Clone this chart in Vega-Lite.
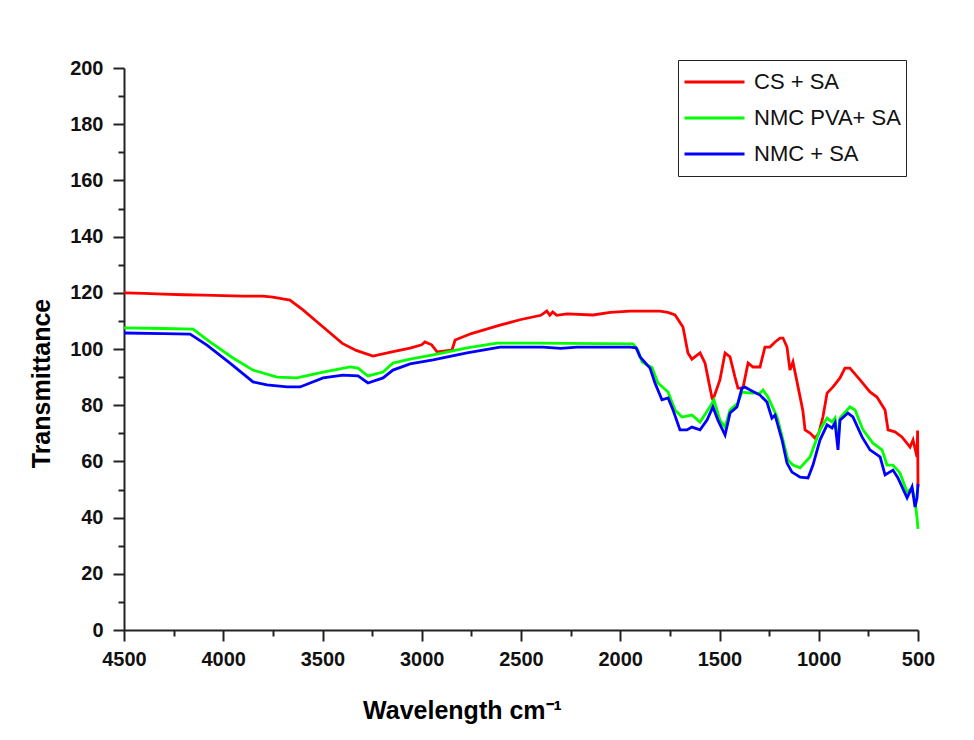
{
  "$schema": "https://vega.github.io/schema/vega-lite/v6.json",
  "width": 794,
  "height": 562,
  "autosize": {"type": "none"},
  "padding": {"left": 124, "top": 68, "right": 56, "bottom": 110},
  "background": "white",
  "config": {
    "view": {"stroke": null},
    "font": "Liberation Sans",
    "axis": {
      "grid": false,
      "domainColor": "#222",
      "domainWidth": 2,
      "tickColor": "#222",
      "tickWidth": 2,
      "labelColor": "#111",
      "labelFont": "Liberation Sans",
      "labelFontWeight": "bold",
      "labelFontSize": 20,
      "titleFont": "Liberation Sans",
      "titleFontWeight": "bold",
      "titleFontSize": 25,
      "titleColor": "#000"
    }
  },
  "datasets": {
    "spectra": [
      {"series": "CS + SA", "wn": 4500, "t": 120},
      {"series": "CS + SA", "wn": 4400, "t": 119.8},
      {"series": "CS + SA", "wn": 4300, "t": 119.5},
      {"series": "CS + SA", "wn": 4200, "t": 119.3},
      {"series": "CS + SA", "wn": 4100, "t": 119.2},
      {"series": "CS + SA", "wn": 4000, "t": 119},
      {"series": "CS + SA", "wn": 3900, "t": 118.8},
      {"series": "CS + SA", "wn": 3800, "t": 118.8},
      {"series": "CS + SA", "wn": 3750, "t": 118.5},
      {"series": "CS + SA", "wn": 3700, "t": 117.8},
      {"series": "CS + SA", "wn": 3664, "t": 117.4},
      {"series": "CS + SA", "wn": 3600, "t": 114},
      {"series": "CS + SA", "wn": 3500, "t": 108},
      {"series": "CS + SA", "wn": 3400, "t": 102},
      {"series": "CS + SA", "wn": 3330, "t": 99.5},
      {"series": "CS + SA", "wn": 3246, "t": 97.5},
      {"series": "CS + SA", "wn": 3150, "t": 99},
      {"series": "CS + SA", "wn": 3059, "t": 100.3},
      {"series": "CS + SA", "wn": 3000, "t": 101.5},
      {"series": "CS + SA", "wn": 2984, "t": 102.5},
      {"series": "CS + SA", "wn": 2950, "t": 101.5},
      {"series": "CS + SA", "wn": 2923, "t": 99},
      {"series": "CS + SA", "wn": 2848, "t": 99.6},
      {"series": "CS + SA", "wn": 2832, "t": 103.2},
      {"series": "CS + SA", "wn": 2750, "t": 105.5},
      {"series": "CS + SA", "wn": 2606, "t": 108.5},
      {"series": "CS + SA", "wn": 2500, "t": 110.5},
      {"series": "CS + SA", "wn": 2400, "t": 112},
      {"series": "CS + SA", "wn": 2370, "t": 113.5},
      {"series": "CS + SA", "wn": 2355, "t": 112},
      {"series": "CS + SA", "wn": 2340, "t": 113.2},
      {"series": "CS + SA", "wn": 2320, "t": 112},
      {"series": "CS + SA", "wn": 2268, "t": 112.5},
      {"series": "CS + SA", "wn": 2137, "t": 112.1},
      {"series": "CS + SA", "wn": 2050, "t": 113},
      {"series": "CS + SA", "wn": 1951, "t": 113.5},
      {"series": "CS + SA", "wn": 1800, "t": 113.5},
      {"series": "CS + SA", "wn": 1760, "t": 113},
      {"series": "CS + SA", "wn": 1724, "t": 112.1},
      {"series": "CS + SA", "wn": 1684, "t": 107.8},
      {"series": "CS + SA", "wn": 1659, "t": 98.6},
      {"series": "CS + SA", "wn": 1639, "t": 96.4},
      {"series": "CS + SA", "wn": 1598, "t": 98.6},
      {"series": "CS + SA", "wn": 1573, "t": 95},
      {"series": "CS + SA", "wn": 1538, "t": 82.6},
      {"series": "CS + SA", "wn": 1533, "t": 81.9},
      {"series": "CS + SA", "wn": 1498, "t": 89},
      {"series": "CS + SA", "wn": 1472, "t": 98.6},
      {"series": "CS + SA", "wn": 1447, "t": 97.2},
      {"series": "CS + SA", "wn": 1422, "t": 90},
      {"series": "CS + SA", "wn": 1407, "t": 86.1},
      {"series": "CS + SA", "wn": 1382, "t": 86.1},
      {"series": "CS + SA", "wn": 1356, "t": 95},
      {"series": "CS + SA", "wn": 1331, "t": 93.6},
      {"series": "CS + SA", "wn": 1296, "t": 93.6},
      {"series": "CS + SA", "wn": 1271, "t": 100.7},
      {"series": "CS + SA", "wn": 1246, "t": 100.7},
      {"series": "CS + SA", "wn": 1220, "t": 102.5},
      {"series": "CS + SA", "wn": 1195, "t": 103.9},
      {"series": "CS + SA", "wn": 1180, "t": 103.9},
      {"series": "CS + SA", "wn": 1160, "t": 100.7},
      {"series": "CS + SA", "wn": 1145, "t": 92.5},
      {"series": "CS + SA", "wn": 1130, "t": 95.4},
      {"series": "CS + SA", "wn": 1100, "t": 85},
      {"series": "CS + SA", "wn": 1080, "t": 78},
      {"series": "CS + SA", "wn": 1069, "t": 71.2},
      {"series": "CS + SA", "wn": 1044, "t": 70.1},
      {"series": "CS + SA", "wn": 1019, "t": 68.3},
      {"series": "CS + SA", "wn": 1000, "t": 70},
      {"series": "CS + SA", "wn": 979, "t": 75.8},
      {"series": "CS + SA", "wn": 958, "t": 84.3},
      {"series": "CS + SA", "wn": 928, "t": 86.5},
      {"series": "CS + SA", "wn": 893, "t": 89.7},
      {"series": "CS + SA", "wn": 868, "t": 93.2},
      {"series": "CS + SA", "wn": 843, "t": 93.2},
      {"series": "CS + SA", "wn": 792, "t": 89},
      {"series": "CS + SA", "wn": 742, "t": 84.7},
      {"series": "CS + SA", "wn": 707, "t": 82.9},
      {"series": "CS + SA", "wn": 666, "t": 78.3},
      {"series": "CS + SA", "wn": 651, "t": 71.2},
      {"series": "CS + SA", "wn": 616, "t": 70.5},
      {"series": "CS + SA", "wn": 581, "t": 68.7},
      {"series": "CS + SA", "wn": 540, "t": 65.1},
      {"series": "CS + SA", "wn": 525, "t": 67.6},
      {"series": "CS + SA", "wn": 505, "t": 61.6},
      {"series": "CS + SA", "wn": 502, "t": 71},
      {"series": "CS + SA", "wn": 500, "t": 51},

      {"series": "NMC PVA+ SA", "wn": 4500, "t": 107.5},
      {"series": "NMC PVA+ SA", "wn": 4300, "t": 107.3},
      {"series": "NMC PVA+ SA", "wn": 4152, "t": 107.1},
      {"series": "NMC PVA+ SA", "wn": 4067, "t": 102.5},
      {"series": "NMC PVA+ SA", "wn": 3951, "t": 96.8},
      {"series": "NMC PVA+ SA", "wn": 3850, "t": 92.5},
      {"series": "NMC PVA+ SA", "wn": 3729, "t": 90},
      {"series": "NMC PVA+ SA", "wn": 3628, "t": 89.7},
      {"series": "NMC PVA+ SA", "wn": 3497, "t": 91.8},
      {"series": "NMC PVA+ SA", "wn": 3361, "t": 93.6},
      {"series": "NMC PVA+ SA", "wn": 3321, "t": 93.2},
      {"series": "NMC PVA+ SA", "wn": 3271, "t": 90.4},
      {"series": "NMC PVA+ SA", "wn": 3195, "t": 91.8},
      {"series": "NMC PVA+ SA", "wn": 3145, "t": 95},
      {"series": "NMC PVA+ SA", "wn": 3059, "t": 96.4},
      {"series": "NMC PVA+ SA", "wn": 2943, "t": 97.9},
      {"series": "NMC PVA+ SA", "wn": 2772, "t": 100.4},
      {"series": "NMC PVA+ SA", "wn": 2621, "t": 102.1},
      {"series": "NMC PVA+ SA", "wn": 2440, "t": 102.1},
      {"series": "NMC PVA+ SA", "wn": 2268, "t": 102},
      {"series": "NMC PVA+ SA", "wn": 1936, "t": 101.8},
      {"series": "NMC PVA+ SA", "wn": 1911, "t": 99.6},
      {"series": "NMC PVA+ SA", "wn": 1890, "t": 95.4},
      {"series": "NMC PVA+ SA", "wn": 1865, "t": 94.3},
      {"series": "NMC PVA+ SA", "wn": 1840, "t": 93.4},
      {"series": "NMC PVA+ SA", "wn": 1810, "t": 87.9},
      {"series": "NMC PVA+ SA", "wn": 1759, "t": 84.7},
      {"series": "NMC PVA+ SA", "wn": 1724, "t": 78.3},
      {"series": "NMC PVA+ SA", "wn": 1689, "t": 75.8},
      {"series": "NMC PVA+ SA", "wn": 1639, "t": 76.5},
      {"series": "NMC PVA+ SA", "wn": 1598, "t": 74},
      {"series": "NMC PVA+ SA", "wn": 1548, "t": 79.4},
      {"series": "NMC PVA+ SA", "wn": 1528, "t": 81.9},
      {"series": "NMC PVA+ SA", "wn": 1498, "t": 74.7},
      {"series": "NMC PVA+ SA", "wn": 1472, "t": 72.2},
      {"series": "NMC PVA+ SA", "wn": 1447, "t": 78.3},
      {"series": "NMC PVA+ SA", "wn": 1407, "t": 80.8},
      {"series": "NMC PVA+ SA", "wn": 1387, "t": 84.7},
      {"series": "NMC PVA+ SA", "wn": 1346, "t": 84.3},
      {"series": "NMC PVA+ SA", "wn": 1296, "t": 84.3},
      {"series": "NMC PVA+ SA", "wn": 1281, "t": 85.4},
      {"series": "NMC PVA+ SA", "wn": 1256, "t": 82.9},
      {"series": "NMC PVA+ SA", "wn": 1210, "t": 75.8},
      {"series": "NMC PVA+ SA", "wn": 1180, "t": 67.6},
      {"series": "NMC PVA+ SA", "wn": 1155, "t": 60.5},
      {"series": "NMC PVA+ SA", "wn": 1130, "t": 58.7},
      {"series": "NMC PVA+ SA", "wn": 1094, "t": 57.7},
      {"series": "NMC PVA+ SA", "wn": 1044, "t": 61.6},
      {"series": "NMC PVA+ SA", "wn": 994, "t": 71.2},
      {"series": "NMC PVA+ SA", "wn": 958, "t": 75.4},
      {"series": "NMC PVA+ SA", "wn": 933, "t": 74},
      {"series": "NMC PVA+ SA", "wn": 918, "t": 75.4},
      {"series": "NMC PVA+ SA", "wn": 903, "t": 66.5},
      {"series": "NMC PVA+ SA", "wn": 893, "t": 75.4},
      {"series": "NMC PVA+ SA", "wn": 843, "t": 79.4},
      {"series": "NMC PVA+ SA", "wn": 817, "t": 78.3},
      {"series": "NMC PVA+ SA", "wn": 777, "t": 71.2},
      {"series": "NMC PVA+ SA", "wn": 727, "t": 66.5},
      {"series": "NMC PVA+ SA", "wn": 681, "t": 64.1},
      {"series": "NMC PVA+ SA", "wn": 656, "t": 58.7},
      {"series": "NMC PVA+ SA", "wn": 626, "t": 58.7},
      {"series": "NMC PVA+ SA", "wn": 591, "t": 55.9},
      {"series": "NMC PVA+ SA", "wn": 555, "t": 49.1},
      {"series": "NMC PVA+ SA", "wn": 530, "t": 50.5},
      {"series": "NMC PVA+ SA", "wn": 515, "t": 46.3},
      {"series": "NMC PVA+ SA", "wn": 505, "t": 40},
      {"series": "NMC PVA+ SA", "wn": 500, "t": 36},

      {"series": "NMC + SA", "wn": 4500, "t": 105.7},
      {"series": "NMC + SA", "wn": 4300, "t": 105.5},
      {"series": "NMC + SA", "wn": 4167, "t": 105.3},
      {"series": "NMC + SA", "wn": 4082, "t": 101.4},
      {"series": "NMC + SA", "wn": 3966, "t": 95},
      {"series": "NMC + SA", "wn": 3850, "t": 88.3},
      {"series": "NMC + SA", "wn": 3780, "t": 87.2},
      {"series": "NMC + SA", "wn": 3679, "t": 86.5},
      {"series": "NMC + SA", "wn": 3613, "t": 86.5},
      {"series": "NMC + SA", "wn": 3497, "t": 89.7},
      {"series": "NMC + SA", "wn": 3397, "t": 90.7},
      {"series": "NMC + SA", "wn": 3321, "t": 90.4},
      {"series": "NMC + SA", "wn": 3271, "t": 87.9},
      {"series": "NMC + SA", "wn": 3195, "t": 89.7},
      {"series": "NMC + SA", "wn": 3145, "t": 92.5},
      {"series": "NMC + SA", "wn": 3059, "t": 94.7},
      {"series": "NMC + SA", "wn": 2943, "t": 96.1},
      {"series": "NMC + SA", "wn": 2772, "t": 98.6},
      {"series": "NMC + SA", "wn": 2606, "t": 100.7},
      {"series": "NMC + SA", "wn": 2389, "t": 100.7},
      {"series": "NMC + SA", "wn": 2300, "t": 100.2},
      {"series": "NMC + SA", "wn": 2218, "t": 100.7},
      {"series": "NMC + SA", "wn": 1951, "t": 100.7},
      {"series": "NMC + SA", "wn": 1920, "t": 100.4},
      {"series": "NMC + SA", "wn": 1900, "t": 97.2},
      {"series": "NMC + SA", "wn": 1850, "t": 93.2},
      {"series": "NMC + SA", "wn": 1825, "t": 87.9},
      {"series": "NMC + SA", "wn": 1790, "t": 81.9},
      {"series": "NMC + SA", "wn": 1759, "t": 82.6},
      {"series": "NMC + SA", "wn": 1734, "t": 78.3},
      {"series": "NMC + SA", "wn": 1699, "t": 71.2},
      {"series": "NMC + SA", "wn": 1664, "t": 71.2},
      {"series": "NMC + SA", "wn": 1639, "t": 72.2},
      {"series": "NMC + SA", "wn": 1598, "t": 71.2},
      {"series": "NMC + SA", "wn": 1563, "t": 74.7},
      {"series": "NMC + SA", "wn": 1533, "t": 79.4},
      {"series": "NMC + SA", "wn": 1508, "t": 74.7},
      {"series": "NMC + SA", "wn": 1472, "t": 69.4},
      {"series": "NMC + SA", "wn": 1447, "t": 77.2},
      {"series": "NMC + SA", "wn": 1412, "t": 79.4},
      {"series": "NMC + SA", "wn": 1387, "t": 86.1},
      {"series": "NMC + SA", "wn": 1372, "t": 86.5},
      {"series": "NMC + SA", "wn": 1346, "t": 85.4},
      {"series": "NMC + SA", "wn": 1296, "t": 83.6},
      {"series": "NMC + SA", "wn": 1261, "t": 81.1},
      {"series": "NMC + SA", "wn": 1236, "t": 75.4},
      {"series": "NMC + SA", "wn": 1220, "t": 76.5},
      {"series": "NMC + SA", "wn": 1185, "t": 67.6},
      {"series": "NMC + SA", "wn": 1160, "t": 59.4},
      {"series": "NMC + SA", "wn": 1135, "t": 56.2},
      {"series": "NMC + SA", "wn": 1094, "t": 54.4},
      {"series": "NMC + SA", "wn": 1054, "t": 54.1},
      {"series": "NMC + SA", "wn": 1029, "t": 58.7},
      {"series": "NMC + SA", "wn": 994, "t": 67.6},
      {"series": "NMC + SA", "wn": 958, "t": 73},
      {"series": "NMC + SA", "wn": 933, "t": 71.9},
      {"series": "NMC + SA", "wn": 918, "t": 73.7},
      {"series": "NMC + SA", "wn": 903, "t": 64.1},
      {"series": "NMC + SA", "wn": 893, "t": 74.7},
      {"series": "NMC + SA", "wn": 853, "t": 77.2},
      {"series": "NMC + SA", "wn": 828, "t": 75.8},
      {"series": "NMC + SA", "wn": 782, "t": 68.7},
      {"series": "NMC + SA", "wn": 742, "t": 64.1},
      {"series": "NMC + SA", "wn": 691, "t": 61.6},
      {"series": "NMC + SA", "wn": 666, "t": 55.2},
      {"series": "NMC + SA", "wn": 626, "t": 56.9},
      {"series": "NMC + SA", "wn": 601, "t": 54.1},
      {"series": "NMC + SA", "wn": 555, "t": 47},
      {"series": "NMC + SA", "wn": 530, "t": 50.9},
      {"series": "NMC + SA", "wn": 515, "t": 43.8},
      {"series": "NMC + SA", "wn": 505, "t": 47},
      {"series": "NMC + SA", "wn": 500, "t": 52}
    ]
  },
  "data": {"name": "spectra"},
  "mark": {"type": "line", "strokeWidth": 2.8, "interpolate": "linear"},
  "encoding": {
    "x": {
      "field": "wn",
      "type": "quantitative",
      "scale": {"domain": [500, 4500], "reverse": true, "nice": false, "zero": false},
      "axis": {
        "title": "Wavelength cm⁻¹",
        "values": [500, 750, 1000, 1250, 1500, 1750, 2000, 2250, 2500, 2750, 3000, 3250, 3500, 3750, 4000, 4250, 4500],
        "format": "d",
        "labelExpr": "datum.value % 500 === 0 ? datum.label : ''",
        "tickSize": {"condition": {"test": "datum.value % 500 === 0", "value": 11}, "value": 6},
        "labelPadding": 8,
        "labelFlush": false,
        "titlePadding": 29,
        "titleX": 338
      }
    },
    "y": {
      "field": "t",
      "type": "quantitative",
      "scale": {"domain": [0, 200], "nice": false},
      "axis": {
        "title": "Transmittance",
        "values": [0, 10, 20, 30, 40, 50, 60, 70, 80, 90, 100, 110, 120, 130, 140, 150, 160, 170, 180, 190, 200],
        "labelExpr": "datum.value % 20 === 0 ? datum.label : ''",
        "tickSize": {"condition": {"test": "datum.value % 20 === 0", "value": 11}, "value": 6},
        "labelPadding": 10,
        "labelFlush": false,
        "titlePadding": 15,
        "titleY": 315
      }
    },
    "color": {
      "field": "series",
      "type": "nominal",
      "sort": ["CS + SA", "NMC PVA+ SA", "NMC + SA"],
      "scale": {"domain": ["CS + SA", "NMC PVA+ SA", "NMC + SA"], "range": ["#ff0000", "#00ff00", "#0000ff"]},
      "legend": {
        "title": null,
        "orient": "none",
        "legendX": 554,
        "legendY": -8,
        "symbolType": "stroke",
        "symbolSize": 3600,
        "symbolStrokeWidth": 3,
        "labelFont": "Liberation Sans",
        "labelFontSize": 22,
        "labelColor": "#111",
        "labelOffset": 8,
        "clipHeight": 34,
        "rowPadding": 2,
        "padding": 5,
        "strokeColor": "#222",
        "fillColor": "white"
      }
    }
  }
}
